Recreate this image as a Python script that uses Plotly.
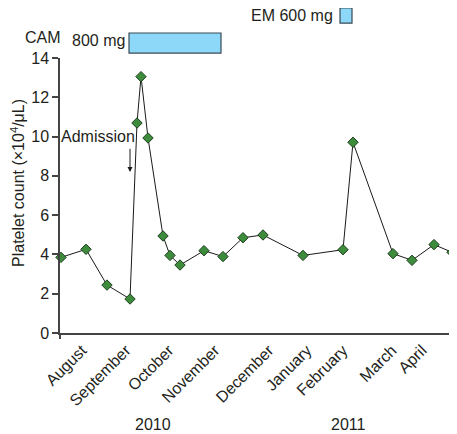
import plotly.graph_objects as go

# Data (x in approximate day offsets from start of axis)
days = [1, 26, 47, 70, 77, 81, 88, 103, 110, 120, 144, 163, 183, 203, 243, 283, 293, 333, 352, 374, 392]
platelets = [3.85, 4.26, 2.44, 1.73, 10.69, 13.05, 9.93, 4.94, 3.95, 3.46, 4.19, 3.89, 4.85, 4.99,
             3.95, 4.24, 9.71, 4.04, 3.70, 4.50, 4.11]

month_labels = ["August", "September", "October", "November", "December",
                "January", "February", "March", "April"]
month_pos = [22, 66, 109, 155, 209, 247, 283, 332, 362]

years = ["2010", "2011"]
year_pos = [93, 288]

drugs = ["CAM", "EM"]
drug_dose = ["800 mg", "600 mg"]
drug_start = [69, 280]
drug_end = [161, 292]

admission_day = 70
XMAX = 394

FONT = "Liberation Sans, Arial, sans-serif"
TXT = "#231f20"
AX = "#444444"

fig = go.Figure()
fig.add_trace(go.Scatter(
    x=days, y=platelets, mode="lines+markers",
    line=dict(color="#1a1a1a", width=1),
    marker=dict(symbol="diamond", size=8, color="#3c8c3c",
                line=dict(color="#1e3d1e", width=1)),
    cliponaxis=False, showlegend=False,
))
# invisible trace for end ticks axis
fig.add_trace(go.Scatter(x=[0, XMAX], y=[0, 0], xaxis="x2", mode="markers",
                         marker=dict(opacity=0), showlegend=False, hoverinfo="skip"))

fig.update_layout(
    width=449, height=426,
    margin=dict(l=52, r=3, t=50, b=101),
    paper_bgcolor="white", plot_bgcolor="white",
    font=dict(family=FONT, size=16, color=TXT),
    xaxis=dict(range=[0, XMAX], tickvals=month_pos, ticktext=month_labels,
               tickangle=-45, ticks="", showgrid=False, zeroline=False,
               showline=True, linecolor=AX, linewidth=1.5, automargin=False,
               tickfont=dict(size=16, color=TXT)),
    xaxis2=dict(range=[0, XMAX], overlaying="x", anchor="y", side="bottom",
                tickvals=[0, XMAX], ticktext=["", ""], ticks="outside",
                ticklen=5, tickcolor=AX, tickwidth=1.5, showgrid=False,
                zeroline=False, showline=False, automargin=False),
    yaxis=dict(range=[0, 14], tickvals=list(range(0, 15, 2)), ticks="outside",
               ticklen=6, tickcolor=AX, tickwidth=1.5, showgrid=False,
               zeroline=False, showline=True, linecolor=AX, linewidth=1.5,
               automargin=False,
               tickfont=dict(size=16, color=TXT)),
)

# Y axis title
fig.add_annotation(xref="paper", yref="paper", x=-0.107, y=0.545, textangle=-90,
                   text="Platelet count (\u00d710<sup>4</sup>/\u03bcL)", showarrow=False,
                   font=dict(size=16, color=TXT), xanchor="center", yanchor="middle")

# Drug bars
bar_y = [(1.018, 1.091), (1.127, 1.182)]
for i, d in enumerate(drugs):
    y0, y1 = bar_y[i]
    fig.add_shape(type="rect", xref="x", yref="paper", x0=drug_start[i], x1=drug_end[i],
                  y0=y0, y1=y1, fillcolor="#8dd8f8", line=dict(color="#3a4a55", width=1.2))

fig.add_annotation(xref="paper", yref="paper", x=-0.043, y=1.073, text="CAM",
                   showarrow=False, font=dict(size=16, color=TXT), xanchor="center", yanchor="middle")
fig.add_annotation(xref="x", yref="paper", x=drug_start[0] - 2, y=1.062, text=drug_dose[0],
                   showarrow=False, font=dict(size=16, color=TXT), xanchor="right", yanchor="middle")
fig.add_annotation(xref="x", yref="paper", x=drug_start[1] - 5, y=1.153,
                   text=drugs[1] + " " + drug_dose[1],
                   showarrow=False, font=dict(size=16, color=TXT), xanchor="right", yanchor="middle")

# Admission
fig.add_annotation(x=38, y=9.98, text="Admission", showarrow=False,
                   font=dict(size=16, color=TXT))
fig.add_annotation(x=admission_day, y=8.2, ax=admission_day, ay=9.45, axref="x", ayref="y",
                   text="", showarrow=True, arrowhead=2, arrowsize=1, arrowwidth=1,
                   arrowcolor="#1a1a1a")

# Years
for yr, xp in zip(years, year_pos):
    fig.add_annotation(xref="x", yref="paper", x=xp, y=-0.334, text=yr, showarrow=False,
                       font=dict(size=16, color=TXT), yanchor="middle")

fig.write_html("out.html")
